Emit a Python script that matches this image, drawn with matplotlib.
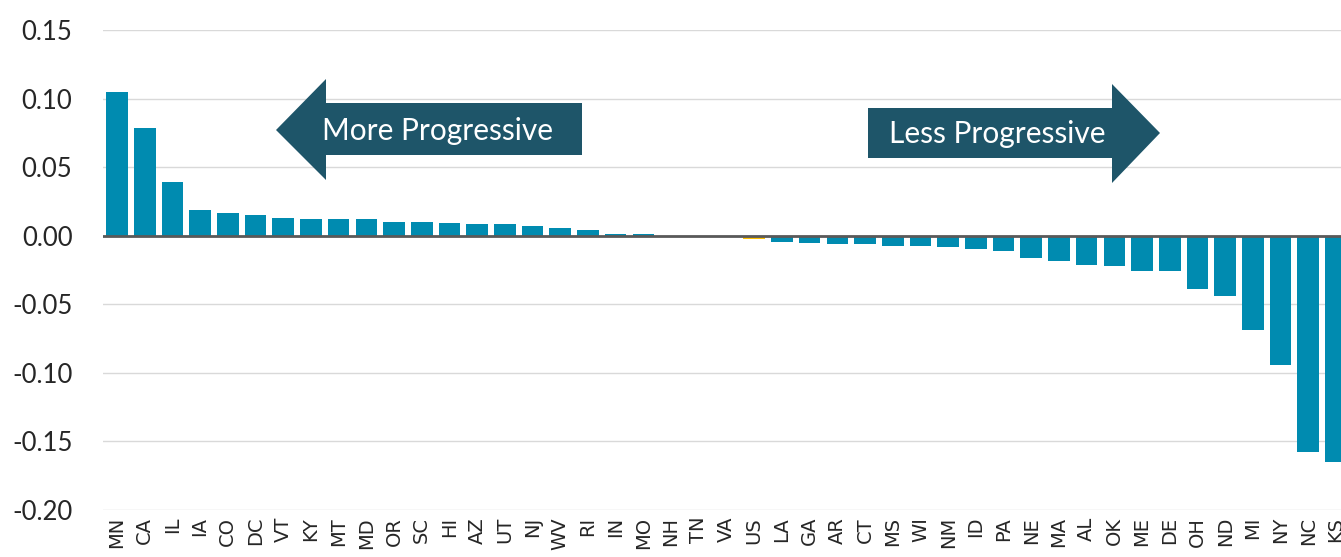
import matplotlib
matplotlib.use('Agg')
import matplotlib.pyplot as plt
from matplotlib.patches import Polygon

states = ['MN', 'CA', 'IL', 'IA', 'CO', 'DC', 'VT', 'KY', 'MT', 'MD', 'OR', 'SC', 'HI',
          'AZ', 'UT', 'NJ', 'WV', 'RI', 'IN', 'MO', 'NH', 'TN', 'VA', 'US', 'LA', 'GA',
          'AR', 'CT', 'MS', 'WI', 'NM', 'ID', 'PA', 'NE', 'MA', 'AL', 'OK', 'ME', 'DE',
          'OH', 'ND', 'MI', 'NY', 'NC', 'KS']
values = [0.1045, 0.0785, 0.039, 0.0185, 0.0168, 0.0148, 0.0131, 0.0121, 0.0121, 0.0121,
          0.0102, 0.0102, 0.0092, 0.0083, 0.0083, 0.0073, 0.0056, 0.0044, 0.001, 0.001,
          0.0, 0.0, 0.0, -0.0024, -0.0044, -0.0053, -0.0063, -0.0063, -0.0073, -0.0073,
          -0.008, -0.0099, -0.0109, -0.0165, -0.0184, -0.021, -0.0223, -0.0257, -0.0257,
          -0.039, -0.0437, -0.0685, -0.094, -0.158, -0.165]
yticks = [0.15, 0.10, 0.05, 0.00, -0.05, -0.10, -0.15, -0.20]

W, H = 1341, 557
fig = plt.figure(figsize=(W / 100, H / 100), dpi=100)
ax = fig.add_axes([103 / W, 47 / H, 1 - 103 / W, (510 - 30) / H])

colors = ['#FFC000' if s == 'US' else '#008BB0' for s in states]
x = list(range(len(states)))
ax.bar(x, values, width=0.78, color=colors, zorder=3)

ax.set_ylim(-0.20, 0.15)
n = len(states)
step = (1336 - 117) / (n - 1)
ax.set_xlim(-(117 - 103) / step, (W - 117) / step)
ax.set_yticks(yticks)
ax.set_yticklabels(['%.2f' % t for t in yticks], fontfamily='Lato', fontsize=18.5, color='#262626')
ax.set_xticks(x)
ax.set_xticklabels(states, rotation=90, fontfamily='DejaVu Sans', fontsize=14, color='#262626')
ax.tick_params(axis='y', length=0, pad=22)
ax.tick_params(axis='x', length=0, pad=5)
ax.grid(axis='y', color='#D9D9D9', linewidth=1, zorder=0)
ax.axhline(0, color='#595959', linewidth=2, zorder=4)
for sp in ax.spines.values():
    sp.set_visible(False)


def px(pts):
    return [(a / W, 1 - b / H) for a, b in pts]


arrow_col = '#1E5569'
left_arrow = [(276, 130), (326, 79), (326, 103), (582, 103), (582, 155), (326, 155), (326, 180)]
right_arrow = [(868, 108), (1112, 108), (1112, 84), (1160, 133), (1112, 183), (1112, 158), (868, 158)]
for pts in (left_arrow, right_arrow):
    fig.patches.append(Polygon(px(pts), closed=True, transform=fig.transFigure,
                               facecolor=arrow_col, edgecolor='none', zorder=10))

fig.text(438 / W, 1 - 131 / H, 'More Progressive', color='white', fontfamily='Lato',
         fontsize=21.5, ha='center', va='center', zorder=11)
fig.text(997 / W, 1 - 134 / H, 'Less Progressive', color='white', fontfamily='Lato',
         fontsize=21.5, ha='center', va='center', zorder=11)

fig.savefig('out.png', dpi=100)
